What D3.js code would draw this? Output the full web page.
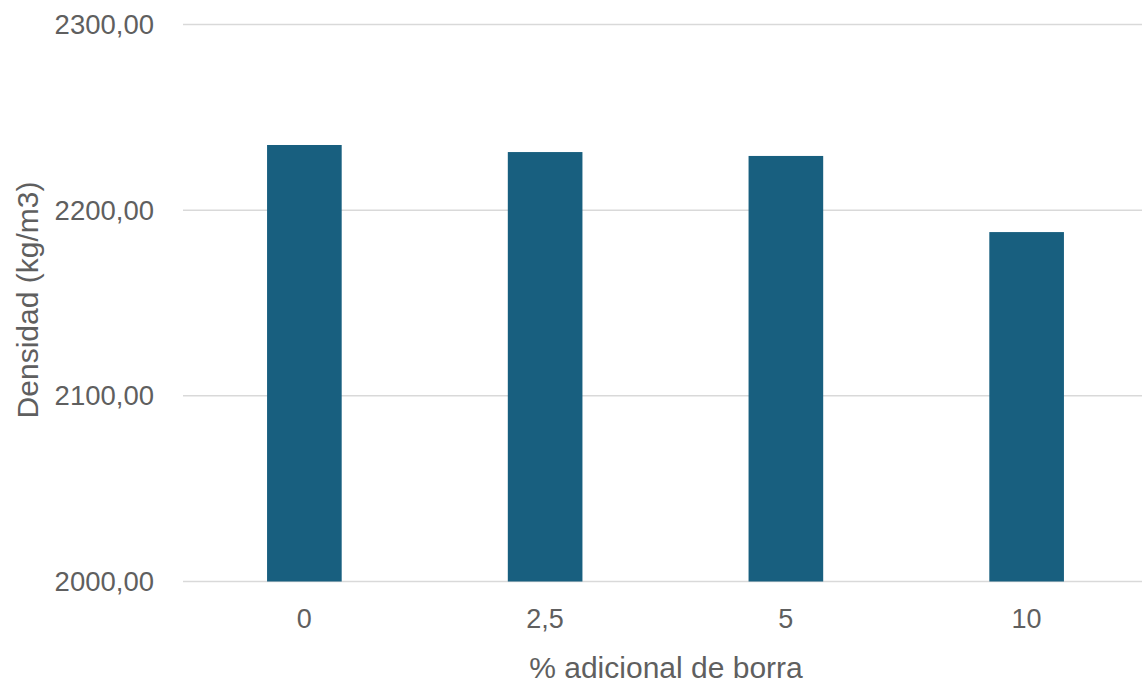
<!DOCTYPE html>
<html>
<head>
<meta charset="utf-8">
<script src="https://cdn.jsdelivr.net/npm/d3@7"></script>
<style>
  body { margin: 0; background: #fff; }
  svg { display: block; font-family: "Liberation Sans", Arial, sans-serif; }
</style>
</head>
<body>
<svg width="1142" height="685"></svg>
<script>
// data
var categories = ["0", "2,5", "5", "10"];
var densidad = [2235.1, 2231.3, 2229.2, 2188.2];
var yTicks = [2000, 2100, 2200, 2300];

var svg = d3.select("svg");
var plotLeft = 184, plotRight = 1147, plotTop = 24.5, plotBottom = 581.5;
var grey = "#5f5f5f";

var x = d3.scaleBand().domain(categories).range([plotLeft, plotRight])
    .paddingInner(0.69).paddingOuter(0.345);
var y = d3.scaleLinear().domain([2000, 2300]).range([plotBottom, plotTop]);

var fmt = function(v) { return d3.format(".2f")(v).replace(".", ","); };

// gridlines
svg.append("g").selectAll("line").data(yTicks).enter().append("line")
    .attr("x1", 183).attr("x2", 1142)
    .attr("y1", function(d) { return y(d); })
    .attr("y2", function(d) { return y(d); })
    .attr("stroke", "#d9d9d9").attr("stroke-width", 1.5);

// y tick labels
svg.append("g").selectAll("text").data(yTicks).enter().append("text")
    .attr("x", 154).attr("y", function(d) { return y(d); })
    .attr("dy", "0.35em").attr("text-anchor", "end")
    .attr("font-size", 27.5).attr("fill", grey)
    .text(fmt);

// bars
svg.append("g").selectAll("rect").data(densidad).enter().append("rect")
    .attr("x", function(d, i) { return x(categories[i]); })
    .attr("width", x.bandwidth())
    .attr("y", function(d) { return y(d); })
    .attr("height", function(d) { return y(2000) - y(d); })
    .attr("fill", "#185f7f");

// x tick labels
svg.append("g").selectAll("text").data(categories).enter().append("text")
    .attr("x", function(d) { return x(d) + x.bandwidth() / 2; })
    .attr("y", 619).attr("dy", "0.35em").attr("text-anchor", "middle")
    .attr("font-size", 27).attr("fill", grey)
    .text(function(d) { return d; });

// axis titles
svg.append("text")
    .attr("x", 666).attr("y", 667).attr("dy", "0.35em")
    .attr("text-anchor", "middle").attr("font-size", 30).attr("fill", grey)
    .text("% adicional de borra");

svg.append("text")
    .attr("transform", "translate(27,300) rotate(-90)")
    .attr("dy", "0.35em").attr("text-anchor", "middle")
    .attr("font-size", 30).attr("fill", grey)
    .text("Densidad (kg/m3)");
</script>
</body>
</html>
